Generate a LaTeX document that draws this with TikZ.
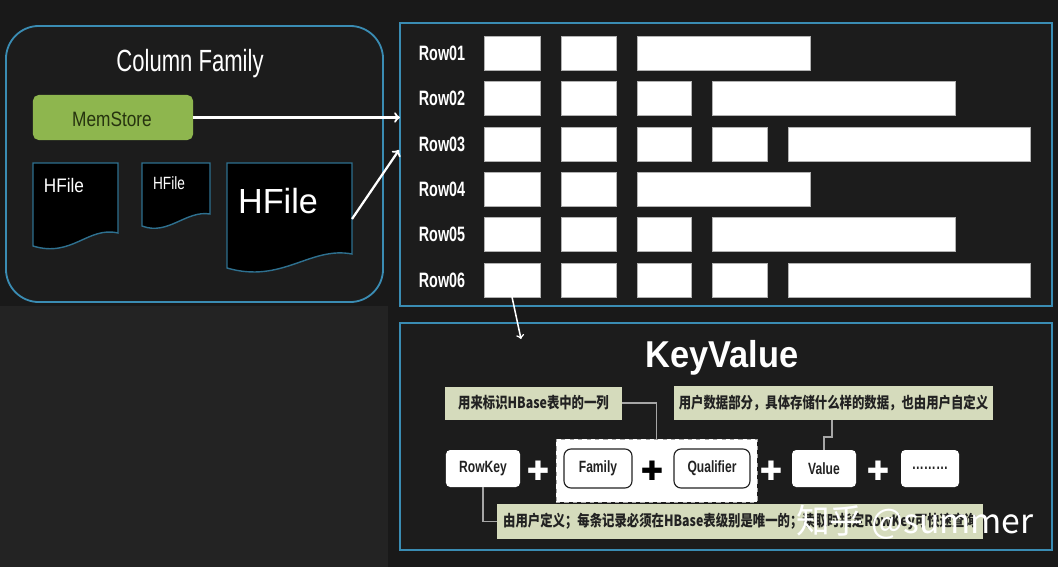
\documentclass[tikz,border=0pt]{standalone}
\usepackage{fontspec}
\setmainfont{Liberation Sans}
\newfontfamily\cjkfont{Noto Sans CJK SC}
\newfontfamily\symfont{DejaVu Sans}
\usepackage{graphicx}
\newcommand*{\narrow}[2]{\scalebox{#1}[1]{#2}}
\definecolor{bgdark}{HTML}{191919}
\definecolor{bglight}{HTML}{232323}
\definecolor{panel}{HTML}{1C1C1C}
\definecolor{frame}{HTML}{3A8CB3}
\definecolor{memgreen}{HTML}{8EB64E}
\definecolor{memtext}{HTML}{26330F}
\definecolor{note}{HTML}{D5DBBC}
\definecolor{ink}{HTML}{222222}
\usetikzlibrary{arrows}
\usetikzlibrary{positioning}
\tikzstyle{base}=[x=0.025cm, y=-0.025cm, inner sep=0pt, outer sep=0pt]
\tikzstyle{panelbox}=[draw=frame, line width=1.3pt, fill=panel]
\tikzstyle{hfile}=[draw=frame!80!black, line width=1pt, fill=black]
\tikzstyle{cell}=[anchor=west, fill=white, draw=gray!60, line width=0.4pt, minimum height=0.85cm]
\tikzstyle{rowlabel}=[text=white, font=\bfseries\fontsize{14.8}{15}\selectfont]
\tikzstyle{notebox}=[fill=note, text=ink, font=\cjkfont\bfseries\fontsize{11}{12}\selectfont]
\tikzstyle{kvbox}=[fill=white, rounded corners=3pt, text=ink, font=\bfseries\fontsize{11.6}{12}\selectfont]
\tikzstyle{kvframed}=[kvbox, draw=ink, line width=0.8pt, rounded corners=5pt]
\tikzstyle{plus}=[font=\symfont\fontsize{19}{19}\selectfont]
\tikzstyle{flow}=[white, line width=1.6pt, ->]
\tikzstyle{link}=[gray!70!white, line width=0.8pt]

\begin{document}
\begin{tikzpicture}[base]
    % background
    \fill[bgdark] (0,0) rectangle (1058,567);
    \fill[bglight] (0,306) rectangle (388,567);
    \useasboundingbox (0,0) rectangle (1058,567);

    % column family
    \node[panelbox, rounded corners=33*0.025cm, minimum width=9.425cm, minimum height=6.9cm] (cf) at (194.5,164) {};
    \node[text=white, font=\fontsize{21.8}{22}\selectfont] (cftitle) at (190,64) {\narrow{0.72}{Column Family}};
    \node[fill=memgreen, rounded corners=4pt, minimum width=4cm, minimum height=1.125cm] (mem) at (113,117.5) {};
    \node[text=memtext, font=\fontsize{14.8}{15}\selectfont] (memtext) at (112,119) {\narrow{0.83}{MemStore}};
    \draw[hfile] (33,163) -- (118,163) -- (118,233) .. controls (88,226) and (72,258) .. (33,246) -- cycle;
    \draw[hfile] (142,163) -- (210,163) -- (210,214) .. controls (186,210) and (168,236) .. (142,226) -- cycle;
    \draw[hfile] (227,163) -- (352,163) -- (352,254) .. controls (310,246) and (282,284) .. (227,268) -- cycle;
    \node[text=white, font=\fontsize{13.9}{14}\selectfont] (hf1) at (64,186) {\narrow{0.88}{HFile}};
    \node[text=white, font=\fontsize{12.6}{13}\selectfont] (hf2) at (169,183) {\narrow{0.77}{HFile}};
    \node[text=white, font=\fontsize{24.8}{25}\selectfont] (hf3) at (278,201) {\narrow{0.98}{HFile}};
    \coordinate (hf3out) at (352,219);

    % rows
    \node[panelbox, minimum width=16.3cm, minimum height=7.075cm] (rows) at (726,164.5) {};
    \foreach \i/\y in {1/53,2/98,3/144,4/189,5/234,6/280} {
        \node[rowlabel] (row\i) at (442,\y) {\narrow{0.69}{Row0\i}};
        \node[cell, minimum width=1.4cm] (c\i-a) at (484,\y) {};
        \node[cell, minimum width=1.375cm] (c\i-b) at (561,\y) {};
    }
    \foreach \i/\y in {1/53,4/189}
        \node[cell, minimum width=4.325cm] (c\i-c) at (637,\y) {};
    \foreach \i/\y in {2/98,5/234} {
        \node[cell, minimum width=1.35cm] (c\i-c) at (637,\y) {};
        \node[cell, minimum width=6.075cm] (c\i-d) at (712,\y) {};
    }
    \foreach \i/\y in {3/144,6/280} {
        \node[cell, minimum width=1.35cm] (c\i-c) at (637,\y) {};
        \node[cell, minimum width=1.375cm] (c\i-d) at (712,\y) {};
        \node[cell, minimum width=6.05cm] (c\i-e) at (788,\y) {};
    }
    \coordinate (rowsin) at (399,150);
    \draw[flow] (mem.east) -- (mem.east -| rows.west);
    \draw[flow] (hf3out) -- (rowsin);

    % key value
    \node[panelbox, minimum width=16.3cm, minimum height=5.675cm] (kv) at (726,436.5) {};
    \coordinate (kvin) at (521,339);
    \draw[white, line width=1.1pt, ->] (c6-a.south) -- (kvin);
    \node[text=white, font=\bfseries\fontsize{26.6}{27}\selectfont] (kvtitle) at (722,358) {\narrow{0.92}{KeyValue}};
    \node[notebox, minimum width=4.425cm, minimum height=0.825cm] (note1) at (533.5,403) {\narrow{0.8}{用来标识HBase表中的一列}};
    \node[notebox, minimum width=7.975cm, minimum height=0.85cm] (note2) at (833.5,403) {\narrow{0.8}{用户数据部分，具体存储什么样的数据，也由用户自定义}};
    \node[fill=white, draw=gray!70, dashed, line width=0.6pt, minimum width=5.025cm, minimum height=1.575cm] (group) at (656.5,470.5) {};
    \node[kvbox, minimum width=1.85cm, minimum height=0.925cm] (rowkey) at (483,468.5) {\narrow{0.74}{RowKey}};
    \node[kvframed, minimum width=1.7cm, minimum height=0.975cm] (family) at (598,468.5) {\narrow{0.74}{Family}};
    \node[kvframed, minimum width=1.9cm, minimum height=0.975cm] (qual) at (712,468.5) {\narrow{0.74}{Qualifier}};
    \node[kvbox, minimum width=1.6cm, minimum height=0.925cm] (value) at (824,468.5) {\narrow{0.74}{Value}};
    \node[kvbox, minimum width=1.45cm, minimum height=0.925cm] (more) at (930,468.5) {\narrow{0.74}{………}};
    \node[plus, text=white] (p1) at (538,471) {✚};
    \node[plus, text=black] (p2) at (652,471) {✚};
    \node[plus, text=white] (p3) at (771,471) {✚};
    \node[plus, text=white] (p4) at (878,471) {✚};
    \node[notebox, minimum width=12.15cm, minimum height=0.875cm] (note3) at (740,521.5) {\narrow{0.8}{由用户定义；每条记录必须在HBase表级别是唯一的；读取时指定RowKey可快速查询}};
    \coordinate (bend) at (832,437);
    \draw[link] (note1.east) -| (group.north);
    \draw[link] (note2.south -| bend) -- (bend) -| (value.north);
    \draw[link] (rowkey.south) |- (note3.west);
    \node[text=white, font=\cjkfont\fontsize{24}{24}\selectfont] (mark) at (915,522) {知乎 @summer};
\end{tikzpicture}
\end{document}
